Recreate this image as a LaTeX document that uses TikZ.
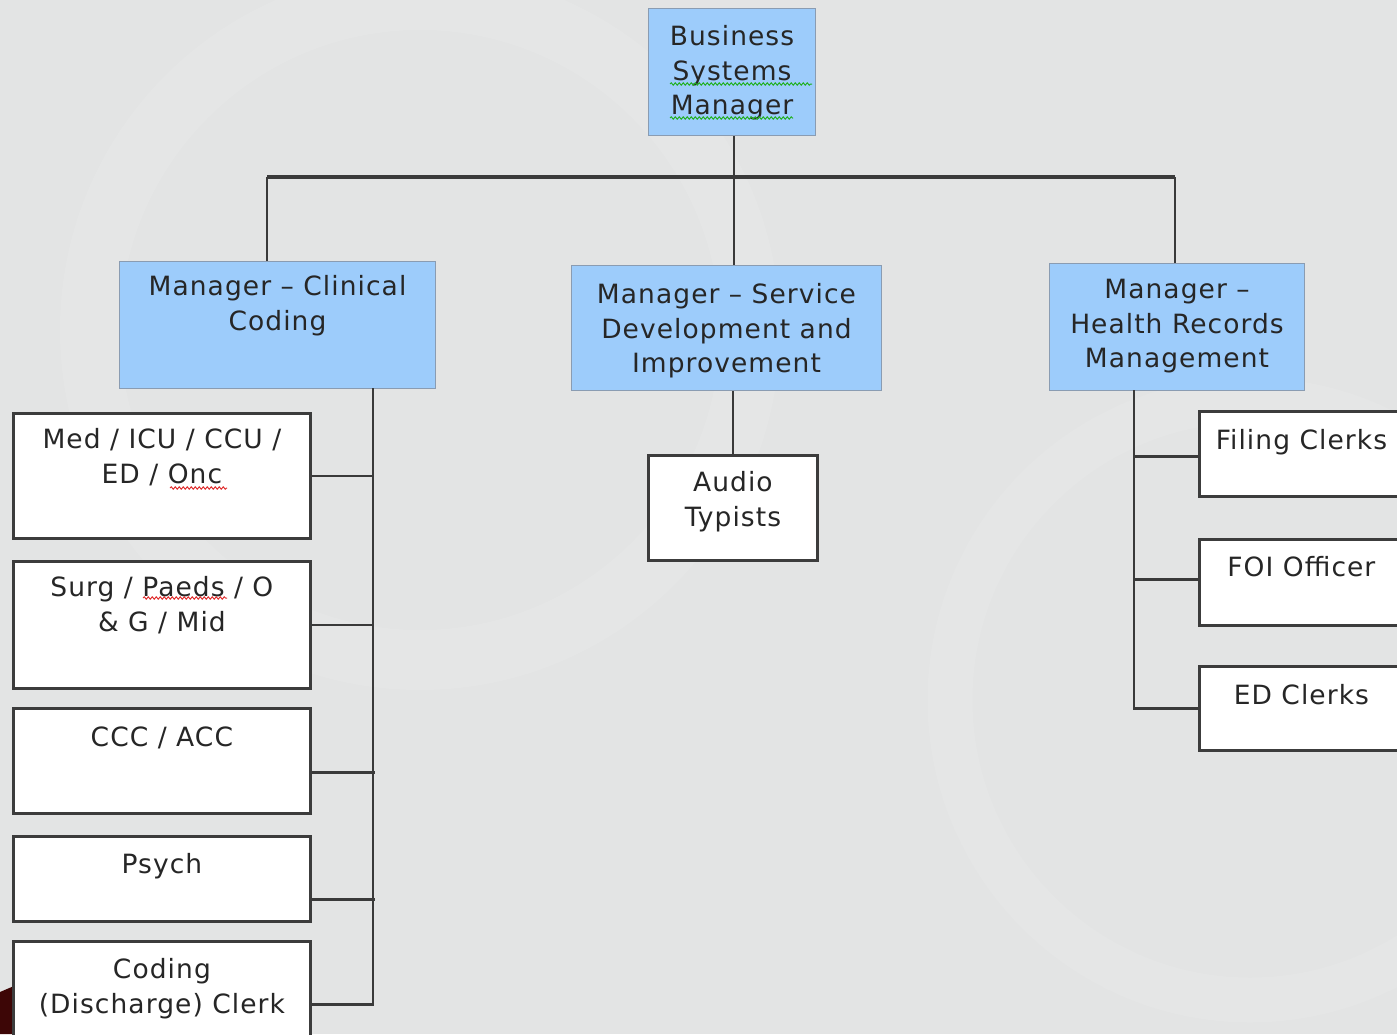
\documentclass[tikz,border=0pt]{standalone}
\usepackage{fontspec}
\usetikzlibrary{decorations.pathmorphing}
\setmainfont{DejaVu Sans}[LetterSpace=4]
\definecolor{bgc}{HTML}{E3E4E4}
\definecolor{bgl}{HTML}{EAEBEB}
\definecolor{mgrblue}{HTML}{9DCCFB}
\definecolor{bluebd}{HTML}{8A9CB2}
\definecolor{boxbd}{HTML}{3C3C3C}
\definecolor{lnc}{HTML}{3A3A3A}
\definecolor{txt}{HTML}{262626}
\definecolor{maroon}{HTML}{3D0606}
\definecolor{sqgreen}{HTML}{22B022}
\definecolor{sqred}{HTML}{E03030}
\newcommand{\bxt}[4]{\parbox[c][#2pt][t]{#1pt}{\centering\rule{0pt}{#3pt}#4}}
\tikzset{
  mgr/.style={draw=bluebd, line width=1pt, fill=mgrblue, inner sep=0pt, anchor=north west, text=txt,
              font=\fontsize{26.5}{34.5}\selectfont},
  sub/.style={draw=boxbd, line width=2.8pt, fill=white, inner sep=0pt, anchor=north west, text=txt,
              font=\fontsize{26.5}{35.5}\selectfont},
  conn/.style={draw=lnc, line width=2.8pt},
  thinconn/.style={draw=lnc, line width=2pt},
  barconn/.style={draw=lnc, line width=3.5pt},
  squig/.style={line width=1pt, decorate, decoration={snake, amplitude=1.2pt, segment length=4pt}},
}
\begin{document}
\begin{tikzpicture}[x=1pt,y=-1pt]
\useasboundingbox (0,0) rectangle (1397,1034);
\clip (0,0) rectangle (1397,1034);
% background
\fill[bgc] (0,0) rectangle (1397,1034);
\draw[bgl, line width=60pt, opacity=0.35] (420,330) circle (330);
\draw[bgl, line width=45pt, opacity=0.3] (1250,700) circle (300);
\fill[maroon] (0,992) -- (14,986) -- (14,1034) -- (0,1034) -- cycle;

% manager nodes
\node[mgr] (bsm) at (648,8)  {\bxt{167}{127}{37}{Business\\Systems\\Manager}};
\node[mgr] (clin) at (119,261) {\bxt{316}{127}{34}{Manager -- Clinical\\Coding}};
\node[mgr] (svc) at (571,265) {\bxt{310}{125}{38}{Manager -- Service\\Development and\\Improvement}};
\node[mgr] (hr) at (1049,263) {\bxt{255}{127}{35}{Manager --\\Health Records\\Management}};

% sub nodes left
\node[sub] (med) at (12,412) {\bxt{297}{125}{35}{Med / ICU / CCU /\\ED / Onc}};
\node[sub] (surg) at (12,560) {\bxt{297}{127}{35}{Surg / Paeds / O\\\& G / Mid}};
\node[sub] (ccc) at (12,707) {\bxt{297}{105}{38}{CCC / ACC}};
\node[sub] (psych) at (12,835) {\bxt{297}{85}{37}{Psych}};
\node[sub] (clerk) at (12,940) {\bxt{297}{126}{37}{Coding\\(Discharge) Clerk}};

% audio
\node[sub] (aud) at (647,454) {\bxt{169}{105}{36}{Audio\\Typists}};

% right
\node[sub] (fil) at (1198,410) {\bxt{204}{85}{38}{Filing Clerks}};
\node[sub] (foi) at (1198,538) {\bxt{204}{86}{37}{FOI Officer}};
\node[sub] (edc) at (1198,665) {\bxt{204}{84}{38}{ED Clerks}};

% spell-check squiggles
\draw[squig, sqgreen] (670,84) -- (812,84);
\draw[squig, sqgreen] (670,118) -- (793,118);
\draw[squig, sqred] (170,488) -- (227,488);
\draw[squig, sqred] (143,598) -- (227,598);

% coordinates
\coordinate (barL) at (267,177);
\coordinate (barR) at (1175,177);
\coordinate (lsp) at (373,388);
\coordinate (rsp) at (1134,390);

% top connectors
\draw[thinconn] ([xshift=1.5pt]bsm.south) -- ([xshift=1.5pt]bsm.south |- svc.north);
\draw[barconn] (barL) -- (barR);
\draw[thinconn] (barL) -- (barL |- clin.north);
\draw[thinconn] (barR) -- (barR |- hr.north);
\draw[thinconn] (aud.north |- svc.south) -- (aud.north);

% left spine
\draw[conn] (lsp) |- (clerk.east);
\draw[conn] (med.east) -- (lsp |- med.east);
\draw[conn] (surg.east) -- (lsp |- surg.east);
\draw[conn] ([yshift=-11.5pt]ccc.east) -- ++(63,0);
\draw[conn] ([yshift=-20.5pt]psych.east) -- ++(63,0);

% right spine
\draw[conn] (rsp) |- (edc.west);
\draw[conn] ([yshift=-2.5pt]fil.west) -- ++(-63,0);
\draw[conn] ([yshift=3pt]foi.west) -- ++(-63,0);
\end{tikzpicture}
\end{document}
